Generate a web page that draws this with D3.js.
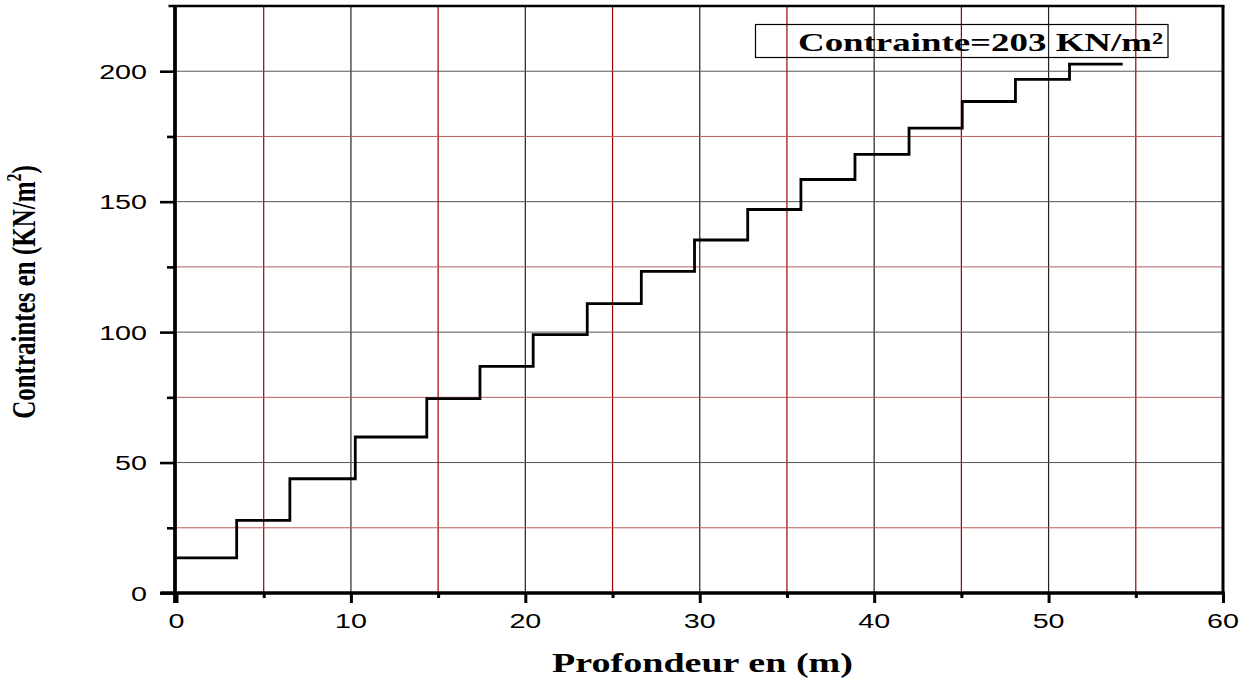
<!DOCTYPE html>
<html lang="fr">
<head>
  <meta charset="UTF-8">
  <title>Contraintes - profondeur</title>
  <script src="https://d3js.org/d3.v7.min.js"></script>
  <style>
    body { margin: 0; background: #fff; }
    svg { display: block; }
  </style>
</head>
<body>
  <div id="my_dataviz"></div>
  <script>
    // profondeur (m) ou la contrainte change, et valeur du palier (KN/m2)
    var depth = [0, 3.45, 6.5, 10.25, 14.35, 17.4, 20.45, 23.55, 26.65, 29.7, 32.75, 35.8, 38.9, 42.0, 45.05, 48.1, 51.2, 54.25];
    var stress = [13.5, 27.8, 43.8, 59.8, 74.5, 86.9, 99, 110.9, 123.3, 135.3, 147, 158.5, 168.1, 178.2, 188.4, 196.9, 202.7];

    var xTicks = [0, 10, 20, 30, 40, 50, 60];
    var xMinor = [5, 15, 25, 35, 45, 55];
    var yTicks = [0, 50, 100, 150, 200];
    var yMinor = [25, 75, 125, 175];

    var legendText = "Contrainte=203 KN/m²";

    var W = 1249, H = 680;
    var stretch = 1.4; // l'image d'origine est etiree en largeur

    var svg = d3.select("#my_dataviz")
      .append("svg")
      .attr("width", W)
      .attr("height", H);

    var x = d3.scaleLinear().domain([0, 60]).range([176.5, 1223]);
    var y = d3.scaleLinear().domain([0, 225]).range([593, 6]);

    // grille verticale
    svg.append("g").selectAll("line")
      .data(xMinor)
      .join("line")
      .attr("x1", d => x(d)).attr("x2", d => x(d))
      .attr("y1", y(225)).attr("y2", y(0))
      .attr("stroke", "#990000").attr("stroke-width", 1.2);
    svg.append("g").selectAll("line")
      .data(xTicks.slice(1, -1))
      .join("line")
      .attr("x1", d => x(d)).attr("x2", d => x(d))
      .attr("y1", y(225)).attr("y2", y(0))
      .attr("stroke", "#222").attr("stroke-width", 1.2);

    // grille horizontale
    svg.append("g").selectAll("line")
      .data(yMinor)
      .join("line")
      .attr("x1", x(0)).attr("x2", x(60))
      .attr("y1", d => y(d)).attr("y2", d => y(d))
      .attr("stroke", "#b85a5a").attr("stroke-width", 1);
    svg.append("g").selectAll("line")
      .data(yTicks.slice(1))
      .join("line")
      .attr("x1", x(0)).attr("x2", x(60))
      .attr("y1", d => y(d)).attr("y2", d => y(d))
      .attr("stroke", "#555").attr("stroke-width", 1);

    // courbe en escalier
    var pts = depth.map((d, i) => [d, stress[Math.min(i, stress.length - 1)]]);
    var line = d3.line()
      .x(d => x(d[0]))
      .y(d => y(d[1]))
      .curve(d3.curveStepAfter);
    svg.append("path")
      .datum(pts)
      .attr("d", line)
      .attr("fill", "none")
      .attr("stroke", "#000")
      .attr("stroke-width", 2.8);

    // cadre haut et droite
    svg.append("line")
      .attr("x1", x(0) - 8).attr("x2", x(60) + 1.5)
      .attr("y1", y(225)).attr("y2", y(225))
      .attr("stroke", "#000").attr("stroke-width", 2.5);
    svg.append("line")
      .attr("x1", x(60)).attr("x2", x(60))
      .attr("y1", y(225)).attr("y2", y(0))
      .attr("stroke", "#000").attr("stroke-width", 3);

    // axe X
    var gx = svg.append("g").attr("transform", "translate(0," + y(0) + ")");
    gx.call(d3.axisBottom(x).tickValues(xTicks).tickSize(10).tickSizeOuter(0).tickFormat(""));
    gx.append("g").call(d3.axisBottom(x).tickValues(xMinor).tickSize(5).tickSizeOuter(0).tickFormat(""));
    gx.selectAll(".domain").attr("stroke-width", 3).attr("d", "M" + (x(0) - 16) + ",0H" + (x(60) + 1.5));
    gx.selectAll(".tick line").attr("stroke-width", 3);

    // axe Y
    var gy = svg.append("g").attr("transform", "translate(" + (x(0) - 1.5) + ",0)");
    gy.call(d3.axisLeft(y).tickValues(yTicks).tickSize(15).tickSizeOuter(0).tickFormat(""));
    gy.append("g").call(d3.axisLeft(y).tickValues(yMinor).tickSize(8).tickSizeOuter(0).tickFormat(""));
    gy.selectAll(".domain").attr("stroke-width", 3.3).attr("d", "M0," + (y(0) + 10) + "V" + (y(225) - 1));
    gy.selectAll(".tick line").attr("stroke-width", 2.6);

    // etiquettes des graduations
    svg.append("g").selectAll("text")
      .data(xTicks)
      .join("text")
      .attr("transform", d => "translate(" + x(d) + ",628) scale(" + stretch + ",1)")
      .attr("text-anchor", "middle")
      .style("font-family", "'Liberation Sans', Arial, sans-serif")
      .style("font-size", "20.5px")
      .text(d => d);
    svg.append("g").selectAll("text")
      .data(yTicks)
      .join("text")
      .attr("transform", d => "translate(147," + (y(d) + 7.5) + ") scale(" + stretch + ",1)")
      .attr("text-anchor", "end")
      .style("font-family", "'Liberation Sans', Arial, sans-serif")
      .style("font-size", "20.5px")
      .text(d => d);

    // titres des axes
    svg.append("text")
      .attr("x", 552).attr("y", 672)
      .attr("textLength", 301).attr("lengthAdjust", "spacingAndGlyphs")
      .style("font-family", "'Liberation Serif', 'Times New Roman', serif")
      .style("font-weight", "bold")
      .style("font-size", "27px")
      .text("Profondeur en (m)");

    var yl = svg.append("text")
      .attr("transform", "translate(35,292) scale(1.37,1) rotate(-90)")
      .attr("text-anchor", "middle")
      .style("font-family", "'Liberation Serif', 'Times New Roman', serif")
      .style("font-weight", "bold")
      .style("font-size", "25px");
    yl.append("tspan").text("Contraintes en (KN/m");
    yl.append("tspan").attr("dy", -10).style("font-size", "16px").text("2");
    yl.append("tspan").attr("dy", 10).text(")");

    // legende
    svg.append("rect")
      .attr("x", 755.5).attr("y", 24.5)
      .attr("width", 412.5).attr("height", 33)
      .attr("fill", "none")
      .attr("stroke", "#000").attr("stroke-width", 1.2);
    svg.append("text")
      .attr("x", 798).attr("y", 51)
      .attr("textLength", 365).attr("lengthAdjust", "spacingAndGlyphs")
      .style("font-family", "'Liberation Serif', 'Times New Roman', serif")
      .style("font-weight", "bold")
      .style("font-size", "26px")
      .text(legendText);
  </script>
</body>
</html>
